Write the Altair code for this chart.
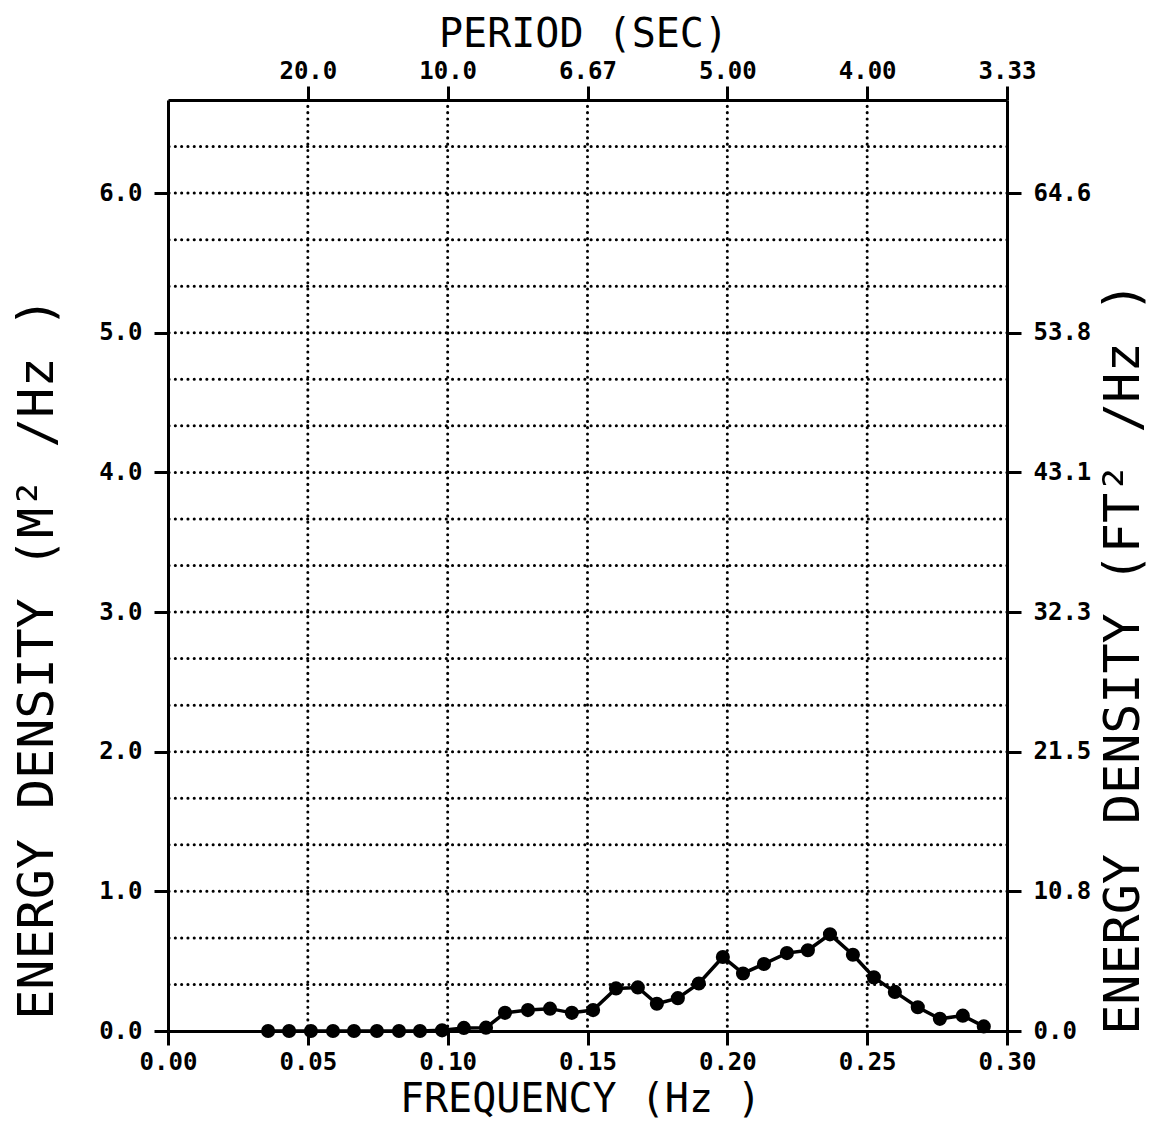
import altair as alt
import pandas as pd

# ---- data ----
freq = [0.0358, 0.0433, 0.0511, 0.0590, 0.0665, 0.0747, 0.0826, 0.0901, 0.0980,
        0.1058, 0.1137, 0.1205, 0.1287, 0.1366, 0.1444, 0.1520, 0.1602, 0.1680,
        0.1748, 0.1823, 0.1898, 0.1984, 0.2056, 0.2131, 0.2213, 0.2288, 0.2367,
        0.2449, 0.2524, 0.2599, 0.2681, 0.2760, 0.2842, 0.2917]
energy = [0.0, 0.0, 0.0, 0.0, 0.0, 0.0, 0.0, 0.0, 0.005,
          0.022, 0.024, 0.13, 0.15, 0.16, 0.13, 0.15, 0.305, 0.312,
          0.195, 0.235, 0.34, 0.53, 0.412, 0.48, 0.558, 0.578, 0.692,
          0.546, 0.384, 0.28, 0.17, 0.087, 0.11, 0.033]

x_ticks = [0.00, 0.05, 0.10, 0.15, 0.20, 0.25, 0.30]
x_grid = [0.05, 0.10, 0.15, 0.20, 0.25]
y_ticks = [0, 1, 2, 3, 4, 5, 6]
y_grid = [0.3333, 0.6667, 1.0, 1.3333, 1.6667, 2.0, 2.3333, 2.6667, 3.0,
          3.3333, 3.6667, 4.0, 4.3333, 4.6667, 5.0, 5.3333, 5.6667, 6.0, 6.3333]
period_ticks = [0.05, 0.10, 0.15, 0.20, 0.25, 0.30]
period_labels = ["20.0", "10.0", "6.67", "5.00", "4.00", "3.33"]
ft_labels = ["0.0", "10.8", "21.5", "32.3", "43.1", "53.8", "64.6"]

X_DOMAIN = [0, 0.30]
Y_DOMAIN = [0, 6.6667]

MONO = "DejaVu Sans Mono"
LBL = dict(labelFont=MONO, labelFontWeight="bold", labelFontSize=24, labelColor="black",
           tickColor="black", tickWidth=3, tickSize=14, domainColor="black", domainWidth=3,
           labelFlush=False, labelOverlap=False, grid=False,
           titleFont=MONO, titleFontWeight="normal", titleColor="black")

xs = alt.Scale(domain=X_DOMAIN, nice=False, zero=False)
ys = alt.Scale(domain=Y_DOMAIN, nice=False, zero=False)

dotted = dict(color="black", strokeWidth=3, strokeDash=[0.1, 6.2], strokeCap="round")

vgrid = alt.Chart(pd.DataFrame({"g": x_grid})).mark_rule(**dotted).encode(
    x=alt.X("g:Q", scale=xs, axis=None))
hgrid = alt.Chart(pd.DataFrame({"g": y_grid})).mark_rule(**dotted).encode(
    y=alt.Y("g:Q", scale=ys, axis=None))

df = pd.DataFrame({"f": freq, "e": energy})
line = alt.Chart(df).mark_line(color="black", strokeWidth=3.5).encode(
    x=alt.X("f:Q", scale=xs, axis=None),
    y=alt.Y("e:Q", scale=ys, axis=None),
)
pts = alt.Chart(df).mark_circle(color="black", size=200, opacity=1).encode(
    x=alt.X("f:Q", scale=xs, axis=None),
    y=alt.Y("e:Q", scale=ys, axis=None),
)
data_layer = alt.layer(vgrid, hgrid, line, pts)

period_expr = "{" + ",".join(f"'{v:.2f}':'{l}'" for v, l in zip(period_ticks, period_labels)) + "}[format(datum.value,'.2f')]"
ft_expr = "[" + ",".join(f"'{l}'" for l in ft_labels) + "][round(datum.value)]"

axes_df = pd.DataFrame({"xt": x_ticks, "yt": y_ticks})

axes_bl = alt.Chart(axes_df).mark_point(opacity=0).encode(
    x=alt.X("xt:Q", scale=xs, axis=alt.Axis(
        orient="bottom", values=x_ticks, format=".2f", labelPadding=5,
        title="FREQUENCY (Hz )", titleFontSize=40, titleX=412, titleY=88, titleAlign="center",
        titleBaseline="bottom", titleAnchor="start", **LBL)),
    y=alt.Y("yt:Q", scale=ys, axis=alt.Axis(
        orient="left", values=y_ticks, format=".1f", labelPadding=12,
        title="ENERGY DENSITY (M² /Hz )", titleFontSize=50, titleAngle=270,
        titleX=-116, titleY=558, titleAlign="center", titleBaseline="alphabetic",
        titleAnchor="start", **LBL)),
)

axes_tr = alt.Chart(axes_df).mark_point(opacity=0).encode(
    x=alt.X("xt:Q", scale=xs, axis=alt.Axis(
        orient="top", values=period_ticks, labelExpr=period_expr, labelPadding=3,
        title="PERIOD (SEC)", titleFontSize=40, titleX=415, titleY=-46, titleAlign="center",
        titleBaseline="bottom", titleAnchor="start", **LBL)),
    y=alt.Y("yt:Q", scale=ys, axis=alt.Axis(
        orient="right", values=y_ticks, labelExpr=ft_expr, labelPadding=12,
        title="ENERGY DENSITY (FT² /Hz )", titleFontSize=50, titleAngle=270,
        titleX=131, titleY=558, titleAlign="center", titleBaseline="alphabetic",
        titleAnchor="start", **LBL)),
)

chart = alt.layer(data_layer, axes_bl, axes_tr).resolve_scale(
    x="independent", y="independent").properties(
    width=839, height=931, autosize="none",
    padding={"left": 160, "top": 92, "right": 144, "bottom": 89},
).configure_view(stroke=None).configure(background="white")

chart.save("out.html", embed_options={"renderer": "svg", "actions": False})
